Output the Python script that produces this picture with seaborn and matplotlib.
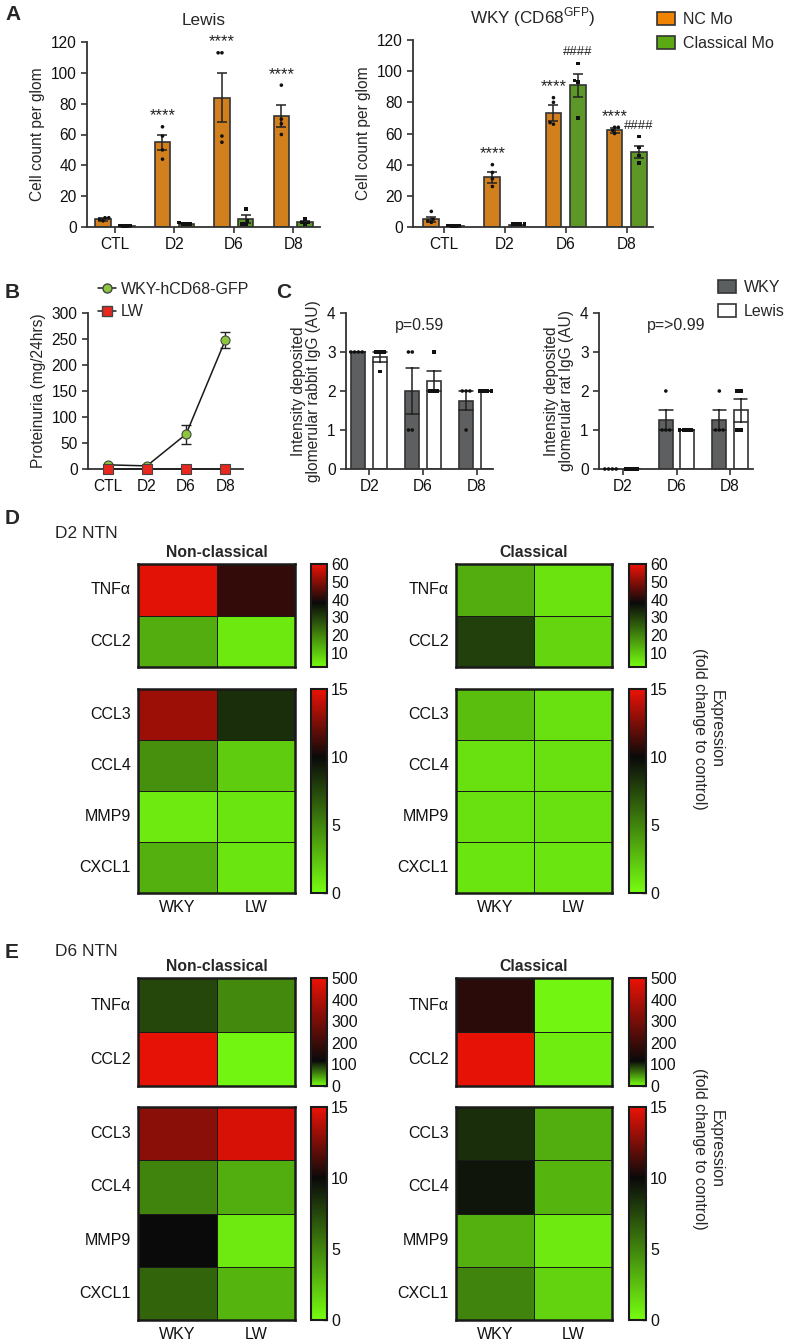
import numpy as np
import pandas as pd
import matplotlib
matplotlib.use("Agg")
import matplotlib.pyplot as plt
import seaborn as sns
from matplotlib.colors import LinearSegmentedColormap
from matplotlib.patches import Patch
from matplotlib.lines import Line2D

# ---------------- data ----------------
days = ["CTL", "D2", "D6", "D8"]
mono = ["NC Mo", "Classical Mo"]

# A - Lewis
lewis_nc_mean = [5, 55, 84, 72]
lewis_nc_sem = [1, 5, 16, 7]
lewis_cl_mean = [0.6, 2, 5, 3]
lewis_cl_sem = [0.3, 0.3, 2.5, 0.7]
lewis_nc_pts = [[6, 6, 5, 4], [65, 59, 50, 44], [113, 113, 59, 55], [92, 70, 67, 60]]
lewis_cl_pts = [[0.5, 0.5, 1, 1], [2, 2, 2, 3], [11.5, 4, 2, 2], [5, 3, 3, 2]]
lewis_nc_sig = ["", "****", "****", "****"]
lewis_cl_sig = ["", "", "", ""]

# A - WKY (CD68-GFP)
wky_nc_mean = [5, 32, 73, 62]
wky_nc_sem = [1.5, 3.5, 5, 1.5]
wky_cl_mean = [0.6, 1.5, 91, 48]
wky_cl_sem = [0.4, 0.4, 7.5, 4]
wky_nc_pts = [[10, 5, 4, 3], [40, 35, 31, 26], [83, 80, 67, 66], [64, 64, 62, 60]]
wky_cl_pts = [[1, 0.5, 0.5, 1], [2, 2, 2, 2], [105, 94, 93, 70], [58, 51, 46, 41]]
wky_nc_sig = ["", "****", "****", "****"]
wky_cl_sig = ["", "", "####", "####"]

# B - proteinuria
strain_lines = ["WKY-hCD68-GFP", "LW"]
prot_wky = [8, 6, 67, 248]
prot_wky_sem = [2, 1, 18, 16]
prot_lw = [0, 0, 0, 0]
prot_lw_sem = [0, 0, 0, 0]

# C - deposited IgG intensity
igg_days = ["D2", "D6", "D8"]
igg_groups = ["WKY", "Lewis"]
rabbit_wky_pts = [[3, 3, 3, 3], [3, 3, 1, 1], [2, 2, 2, 1]]
rabbit_lew_pts = [[3, 3, 3, 2.5], [3, 2, 2, 2], [2, 2, 2, 2]]
rat_wky_pts = [[0, 0, 0, 0], [2, 1, 1, 1], [2, 1, 1, 1]]
rat_lew_pts = [[0, 0, 0, 0], [1, 1, 1, 1], [2, 2, 1, 1]]

# D / E - heatmaps (fold change to control)
strains = ["WKY", "LW"]
rows_top = ["TNFα", "CCL2"]
rows_low = ["CCL3", "CCL4", "MMP9", "CXCL1"]
d2_nc_top = [[59, 42], [14, 5]]
d2_cl_top = [[14, 6], [30, 8]]
d2_nc_low = [[13.2, 8.5], [4.5, 2], [0.8, 1], [3.2, 1]]
d2_cl_low = [[2.6, 1.2], [1.2, 1.2], [1.2, 1.2], [1.0, 1.0]]
d6_nc_top = [[86, 55], [490, 5]]
d6_cl_top = [[170, 5], [490, 8]]
d6_nc_low = [[12.8, 14.5], [5, 3.3], [10, 0.8], [6.3, 3]]
d6_cl_low = [[8.5, 3.3], [9.5, 3], [3.2, 0.8], [5, 1.8]]

# ---------------- style ----------------
sns.set_theme(style="ticks")
plt.rcParams["font.family"] = ["Liberation Sans", "DejaVu Sans"]
plt.rcParams["mathtext.fontset"] = "custom"
plt.rcParams["mathtext.rm"] = "Liberation Sans"
plt.rcParams["axes.edgecolor"] = "#333333"
plt.rcParams["axes.linewidth"] = 1.3
plt.rcParams["xtick.color"] = "#333333"
plt.rcParams["ytick.color"] = "#333333"
plt.rcParams["xtick.labelcolor"] = "#111111"
plt.rcParams["ytick.labelcolor"] = "#111111"

orange = "#F08300"
green = "#5BAA14"
edge = "#333333"
lime = "#76FD10"
red = "#EC1206"
FS = 11.2

W, H = 789, 1344
fig = plt.figure(figsize=(W / 100, H / 100), dpi=100)


def box(x0, y0, x1, y1):
    return [x0 / W, 1 - y1 / H, (x1 - x0) / W, (y1 - y0) / H]


def long_pts(cats, groups, pts_list, col):
    recs = []
    for g, pts in zip(groups, pts_list):
        for c, vals in zip(cats, pts):
            for v in vals:
                recs.append({"day": c, "grp": g, col: v})
    return pd.DataFrame(recs)


def dots(ax, df, col, order, hue_order, markers):
    for level, mk in zip(hue_order, markers):
        sns.swarmplot(data=df[df["grp"] == level], x="day", y=col, hue="grp",
                      order=order, hue_order=hue_order, dodge=True,
                      palette=["#111111"] * len(hue_order), marker=mk, size=2.6,
                      linewidth=0, legend=False, ax=ax, zorder=5, clip_on=False)


def style_axes(ax):
    sns.despine(ax=ax)
    ax.tick_params(labelsize=FS, length=4, width=1.2)
    ax.set_xlabel("")


def cell_panel(ax, title, nc_mean, nc_sem, cl_mean, cl_sem, nc_pts, cl_pts, nc_sig, cl_sig, xlim):
    bars = pd.DataFrame({"day": days * 2, "grp": [mono[0]] * 4 + [mono[1]] * 4,
                         "count": nc_mean + cl_mean})
    sns.barplot(data=bars, x="day", y="count", hue="grp", order=days, hue_order=mono,
                palette=[orange, green], width=0.8, gap=0.35, edgecolor=edge,
                linewidth=1.2, errorbar=None, legend=False, ax=ax)
    for cont, m, s, pts, sig in zip(ax.containers, [nc_mean, cl_mean], [nc_sem, cl_sem],
                                    [nc_pts, cl_pts], [nc_sig, cl_sig]):
        xs = [b.get_x() + b.get_width() / 2 for b in cont]
        ax.errorbar(xs, m, yerr=s, fmt="none", ecolor="#222222", elinewidth=1.1,
                    capsize=3.5, capthick=1.1, zorder=4)
        for x, p, t in zip(xs, pts, sig):
            if t:
                ax.text(x, max(p) + 7, t, ha="center", va="center",
                        fontsize=12 if t.startswith("*") else 9.5,
                        color="#222222", clip_on=False)
    df = long_pts(days, mono, [nc_pts, cl_pts], "count")
    dots(ax, df, "count", days, mono, ["o", "s"])
    ax.set_ylim(0, 120)
    ax.set_yticks(range(0, 121, 20))
    ax.set_xlim(*xlim)
    ax.set_ylabel("Cell count per glom", fontsize=FS)
    ax.set_title(title, fontsize=12.3, pad=12)
    style_axes(ax)


# ---------------- A ----------------
axA1 = fig.add_axes(box(87, 42, 320, 227))
cell_panel(axA1, "Lewis", lewis_nc_mean, lewis_nc_sem, lewis_cl_mean, lewis_cl_sem,
           lewis_nc_pts, lewis_cl_pts, lewis_nc_sig, lewis_cl_sig, (-0.47, 3.45))
axA2 = fig.add_axes(box(413, 40, 653, 227))
cell_panel(axA2, "WKY (CD68$^{\\mathrm{GFP}}$)", wky_nc_mean, wky_nc_sem, wky_cl_mean, wky_cl_sem,
           wky_nc_pts, wky_cl_pts, wky_nc_sig, wky_cl_sig, (-0.5, 3.43))
fig.legend(handles=[Patch(facecolor=orange, edgecolor=edge, linewidth=1.2),
                    Patch(facecolor=green, edgecolor=edge, linewidth=1.2)],
           labels=mono, loc="upper left", bbox_to_anchor=(657 / W, 1 - 12 / H),
           frameon=False, fontsize=11.5, handlelength=1.1, handleheight=0.9,
           handletextpad=0.5, labelspacing=0.55, borderpad=0, borderaxespad=0)

# ---------------- B ----------------
axB = fig.add_axes(box(88, 313, 243, 469))
xpos = np.arange(len(days))
for vals, sem, mk, fc in [(prot_wky, prot_wky_sem, "o", "#8CC63F"), (prot_lw, prot_lw_sem, "s", "#E8281E")]:
    sns.lineplot(x=xpos, y=vals, color="#1a1a1a", linewidth=1.1, marker=mk, markersize=6.5,
                 markerfacecolor=fc, markeredgecolor="#444444", markeredgewidth=0.8,
                 ax=axB, clip_on=False, zorder=5)
    axB.errorbar(xpos, vals, yerr=sem, fmt="none", ecolor="#222222", elinewidth=1.0,
                 capsize=3.5, capthick=1.0, zorder=4)
axB.set_xticks(xpos, days)
axB.set_xlim(-0.5, 3.45)
axB.set_ylim(0, 300)
axB.set_yticks(range(0, 301, 50))
axB.set_ylabel("Proteinuria (mg/24hrs)", fontsize=FS)
style_axes(axB)
axB.legend(handles=[Line2D([], [], color="#1a1a1a", lw=1.1, marker="o", markersize=6.5,
                           markerfacecolor="#8CC63F", markeredgecolor="#444444"),
                    Line2D([], [], color="#1a1a1a", lw=1.1, marker="s", markersize=6.5,
                           markerfacecolor="#E8281E", markeredgecolor="#444444")],
           labels=strain_lines, loc="upper left", bbox_to_anchor=(98 / W, 1 - 282 / H),
           bbox_transform=fig.transFigure, frameon=False, fontsize=11.5, handlelength=1.1,
           handletextpad=0.35, labelspacing=0.45, borderpad=0, borderaxespad=0)


# ---------------- C ----------------
def igg_panel(ax, wky_pts, lew_pts, ylabel, ptext, xlim):
    df = long_pts(igg_days, igg_groups, [wky_pts, lew_pts], "score")
    sns.barplot(data=df, x="day", y="score", hue="grp", order=igg_days, hue_order=igg_groups,
                palette=["#5C5F60", "white"], width=0.8, gap=0.35, edgecolor=edge,
                linewidth=1.2, errorbar="se", capsize=0.5,
                err_kws={"color": "#222222", "linewidth": 1.1}, legend=False, ax=ax)
    dots(ax, df, "score", igg_days, igg_groups, ["o", "s"])
    ax.set_ylim(0, 4)
    ax.set_yticks(range(0, 5))
    ax.set_xlim(*xlim)
    ax.set_ylabel(ylabel, fontsize=FS, linespacing=1.05)
    ax.text(0.5, 0.92, ptext, transform=ax.transAxes, ha="center", va="center", fontsize=11.5)
    style_axes(ax)


axC1 = fig.add_axes(box(346, 313, 493, 469))
igg_panel(axC1, rabbit_wky_pts, rabbit_lew_pts,
          "Intensity deposited\nglomerular rabbit IgG (AU)", "p=0.59", (-0.43, 2.3))
axC2 = fig.add_axes(box(599, 313, 753, 469))
igg_panel(axC2, rat_wky_pts, rat_lew_pts,
          "Intensity deposited\nglomerular rat IgG (AU)", "p=>0.99", (-0.45, 2.43))
fig.legend(handles=[Patch(facecolor="#5C5F60", edgecolor=edge, linewidth=1.2),
                    Patch(facecolor="white", edgecolor=edge, linewidth=1.2)],
           labels=igg_groups, loc="upper left", bbox_to_anchor=(718 / W, 1 - 280 / H),
           frameon=False, fontsize=11.5, handlelength=1.1, handleheight=0.9,
           handletextpad=0.5, labelspacing=0.55, borderpad=0, borderaxespad=0)


# ---------------- D / E heatmaps ----------------
def heat(pos, cpos, values, rows, vmin, vmax, black, ticks, show_x, title=None):
    ax = fig.add_axes(box(*pos))
    cax = fig.add_axes(box(*cpos))
    frac = (black - vmin) / (vmax - vmin)
    cmap = LinearSegmentedColormap.from_list("gkr", [(0, lime), (frac, "#0a0a0a"), (1, red)])
    df = pd.DataFrame(values, index=rows, columns=strains)
    sns.heatmap(df, ax=ax, cmap=cmap, vmin=vmin, vmax=vmax, cbar_ax=cax,
                linewidths=0.7, linecolor="#1a1a1a", xticklabels=show_x, yticklabels=True)
    for s in ax.spines.values():
        s.set_visible(True)
        s.set_linewidth(1.8)
        s.set_color("#1a1a1a")
    ax.tick_params(length=0, labelsize=11.5, pad=5)
    ax.set_yticklabels(ax.get_yticklabels(), rotation=0)
    if show_x:
        ax.set_xticklabels(ax.get_xticklabels(), rotation=0)
    ax.set_xlabel("")
    ax.set_ylabel("")
    if title:
        ax.set_title(title, fontsize=11.3, fontweight="bold", pad=5)
    cb = ax.collections[0].colorbar
    cb.outline.set_linewidth(1.5)
    cb.outline.set_edgecolor("#1a1a1a")
    cb.set_ticks(ticks)
    cax.tick_params(labelsize=11.5, length=3, width=1, direction="in", pad=3)
    return ax


panels = [
    ("D", "D2 NTN", 518, 533, 564, 103, 22, 204,
     (d2_nc_top, d2_nc_low, d2_cl_top, d2_cl_low), (2, 60, 38, range(10, 61, 10))),
    ("E", "D6 NTN", 952, 952, 978, 108, 21, 213,
     (d6_nc_top, d6_nc_low, d6_cl_top, d6_cl_low), (0, 500, 115, range(0, 501, 100))),
]
for label, title_txt, y_lab, y_title, t0, ht, gap, hl, sets, top_rng in panels:
    fig.text(5 / W, 1 - y_lab / H, label, fontsize=15, fontweight="bold", va="center", ha="left")
    fig.text(55 / W, 1 - y_title / H, title_txt, fontsize=12.5, va="center", ha="left")
    for (hx0, hx1, cx0, cx1, name, top, low) in [
            (138, 295, 311, 327, "Non-classical", sets[0], sets[1]),
            (456, 612, 629, 646, "Classical", sets[2], sets[3])]:
        heat((hx0, t0, hx1, t0 + ht), (cx0, t0, cx1, t0 + ht), top, rows_top,
             top_rng[0], top_rng[1], top_rng[2], list(top_rng[3]), False, name)
        heat((hx0, t0 + ht + gap, hx1, t0 + ht + gap + hl),
             (cx0, t0 + ht + gap, cx1, t0 + ht + gap + hl),
             low, rows_low, 0, 15, 10, [0, 5, 10, 15], True)
    fig.text(708 / W, 1 - (t0 + (ht + gap + hl) / 2) / H, "Expression\n(fold change to control)",
             rotation=-90, ha="center", va="center", multialignment="center", fontsize=11.3)

# panel letters
fig.text(5 / W, 1 - 15 / H, "A", fontsize=15, fontweight="bold", va="center", ha="left")
fig.text(5 / W, 1 - 293 / H, "B", fontsize=15, fontweight="bold", va="center", ha="left")
fig.text(276 / W, 1 - 293 / H, "C", fontsize=15, fontweight="bold", va="center", ha="left")

fig.savefig("out.png", dpi=100)
